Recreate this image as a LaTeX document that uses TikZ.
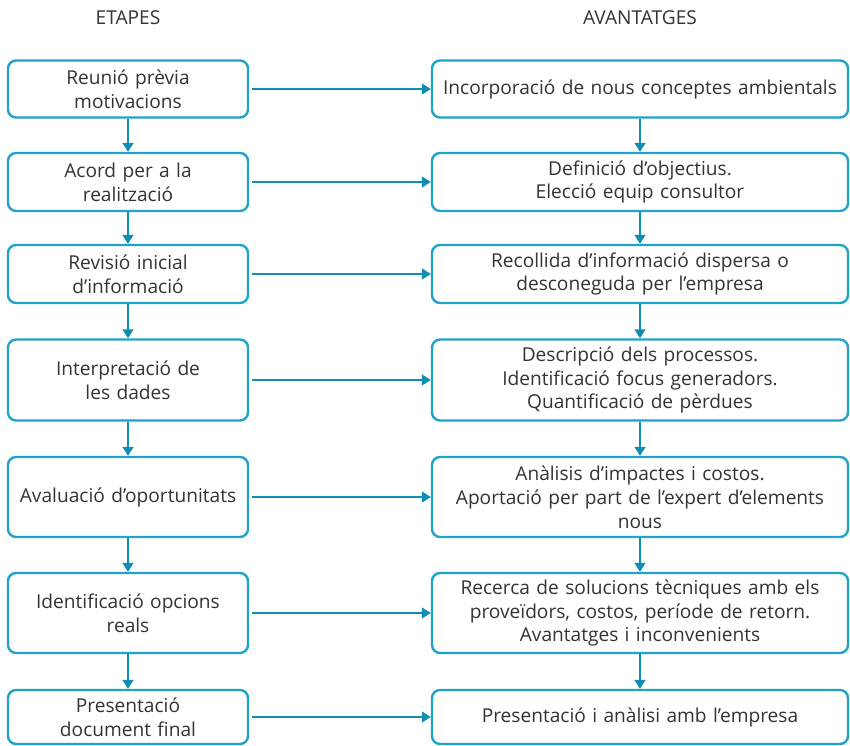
\documentclass[tikz,border=0pt]{standalone}
\usepackage{fontspec}
\setmainfont{Open Sans}
\usetikzlibrary{arrows.meta}
\usepackage{xcolor}
\definecolor{boxblue}{HTML}{1FA3C8}
\definecolor{arrowblue}{HTML}{0F8DB5}
\definecolor{txtgray}{HTML}{333333}

\begin{document}
\begin{tikzpicture}[x=1bp, y=-1bp]
        % ================= styles =================
        \tikzset{
            % left column (etapes)
            etapa/.style={draw=boxblue, line width=2.4bp, rounded corners=8bp, fill=white, minimum width=240bp, text width=230bp, align=center, inner sep=0pt, font=\fontsize{19.2}{24}\selectfont, text=txtgray},
            % right column (avantatges)
            avantatge/.style={etapa, minimum width=416bp, text width=406bp},
            % column titles
            titol/.style={font=\fontsize{19.2}{24}\selectfont, text=txtgray},
            % connectors
            fletxa/.style={draw=arrowblue, line width=1.5bp, -{Triangle[length=9bp, width=11bp]}}
        }
        \useasboundingbox (0,0) rectangle (850,746);

        % ================= titles =================
        \node[titol] (tE) at (128,18) {ETAPES};
        \node[titol] (tA) at (640,18) {AVANTATGES};

        % ================= left column =================
        \node[etapa, minimum height=57bp] (e1) at (128,89) {Reunió prèvia\\motivacions};
        \node[etapa, minimum height=58bp] (e2) at (128,182) {Acord per a la\\realització};
        \node[etapa, minimum height=58bp] (e3) at (128,274) {Revisió inicial\\d’informació};
        \node[etapa, minimum height=81bp] (e4) at (128,380) {Interpretació de\\les dades};
        \node[etapa, minimum height=80bp] (e5) at (128,497) {Avaluació d’oportunitats};
        \node[etapa, minimum height=80bp] (e6) at (128,613) {Identificació opcions\\reals};
        \node[etapa, minimum height=54bp] (e7) at (128,717) {Presentació\\document final};

        % ================= right column =================
        \node[avantatge, minimum height=57bp] (a1) at (640,89) {Incorporació de nous conceptes ambientals};
        \node[avantatge, minimum height=58bp] (a2) at (640,182) {Definició d’objectius.\\Elecció equip consultor};
        \node[avantatge, minimum height=58bp] (a3) at (640,274) {Recollida d’informació dispersa o\\desconeguda per l’empresa};
        \node[avantatge, minimum height=81bp] (a4) at (640,380) {Descripció dels processos.\\Identificació focus generadors.\\Quantificació de pèrdues};
        \node[avantatge, minimum height=80bp] (a5) at (640,497) {Anàlisis d’impactes i costos.\\Aportació per part de l’expert d’elements\\nous};
        \node[avantatge, minimum height=80bp] (a6) at (640,613) {Recerca de solucions tècniques amb els\\proveïdors, costos, període de retorn.\\Avantatges i inconvenients};
        \node[avantatge, minimum height=54bp] (a7) at (640,717) {Presentació i anàlisi amb l’empresa};

        % ================= connectors =================
        \foreach \i/\j in {1/2, 2/3, 3/4, 4/5, 5/6, 6/7} {
            \draw[fletxa] (e\i) -- (e\j);
            \draw[fletxa] (a\i) -- (a\j);
        }
        \foreach \i in {1,...,7} {
            \draw[fletxa, shorten <=3bp] (e\i) -- (a\i);
        }
    \end{tikzpicture}
\end{document}
